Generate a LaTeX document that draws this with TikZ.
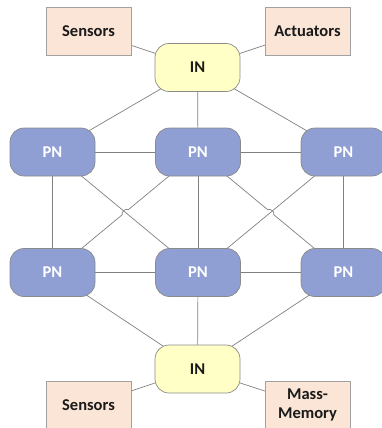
\documentclass[tikz,border=0pt]{standalone}
\usepackage{fontspec}
\setmainfont{Carlito}
\usetikzlibrary{backgrounds,calc}
\definecolor{pnfill}{HTML}{8F9FD3}
\definecolor{infill}{HTML}{FFFFC6}
\definecolor{boxfill}{HTML}{FBE5D6}
\definecolor{edgecol}{HTML}{8A8A8A}
\definecolor{linecol}{HTML}{808080}
\definecolor{txt}{HTML}{1A1A1A}
\tikzset{
  pn/.style={draw=edgecol, fill=pnfill, rounded corners=14pt, minimum width=85pt, minimum height=48pt, text=white, font=\bfseries\fontsize{16.5}{18}\selectfont, line width=0.7pt},
  innode/.style={draw=edgecol, fill=infill, rounded corners=14pt, minimum width=85pt, minimum height=48pt, text=txt, font=\bfseries\fontsize{16.5}{18}\selectfont, line width=0.7pt},
  iobox/.style={draw=edgecol!80, fill=boxfill, minimum width=85pt, minimum height=48pt, text=txt, font=\bfseries\fontsize{16.5}{18.5}\selectfont, align=center, line width=0.6pt},
  link/.style={draw=linecol, line width=0.7pt}
}
\begin{document}
\begin{tikzpicture}[x=1pt,y=-1pt]
\useasboundingbox (0,0) rectangle (381,428);
\node[iobox] (s1) at (88.5,31) {Sensors};
\node[iobox] (act) at (307.5,31) {Actuators};
\node[innode] (in1) at (197.5,67.5) {IN};
\node[pn] (p11) at (52.5,152) {PN};
\node[pn] (p12) at (198,152) {PN};
\node[pn] (p13) at (343.5,152) {PN};
\node[pn] (p21) at (52.5,272.5) {PN};
\node[pn] (p22) at (198,272.5) {PN};
\node[pn] (p23) at (343.5,272.5) {PN};
\node[innode] (in2) at (197.5,369) {IN};
\node[iobox] (s2) at (88.5,405) {Sensors};
\node[iobox] (mm) at (307.5,405) {Mass-\\Memory};
\begin{pgfonlayer}{background}
\draw[link] (s1.center) -- (in1.center);
\draw[link] (act.center) -- (in1.center);
\draw[link] (in1.center) -- (p11.center);
\draw[link] (in1.center) -- (p12.center);
\draw[link] (in1.center) -- (p13.center);
\draw[link] (p11.center) -- (p12.center);
\draw[link] (p12.center) -- (p13.center);
\draw[link] (p21.center) -- (p22.center);
\draw[link] (p22.center) -- (p23.center);
\draw[link] (p11.center) -- (p21.center);
\draw[link] (p12.center) -- (p22.center);
\draw[link] (p13.center) -- (p23.center);
\draw[link] (p11.center) -- (p22.center);
\draw[link] (p13.center) -- (p22.center);
\draw[link] (p12.center) -- ($(p12.center)!0.48!(p21.center)$) to[bend right=90] ($(p12.center)!0.52!(p21.center)$) -- (p21.center);
\draw[link] (p12.center) -- ($(p12.center)!0.48!(p23.center)$) to[bend left=90] ($(p12.center)!0.52!(p23.center)$) -- (p23.center);
\draw[link] (p21.center) -- (in2.center);
\draw[link] (p22.center) -- (in2.center);
\draw[link] (p23.center) -- (in2.center);
\draw[link] (in2.center) -- (s2.center);
\draw[link] (in2.center) -- (mm.center);
\end{pgfonlayer}
\end{tikzpicture}
\end{document}
